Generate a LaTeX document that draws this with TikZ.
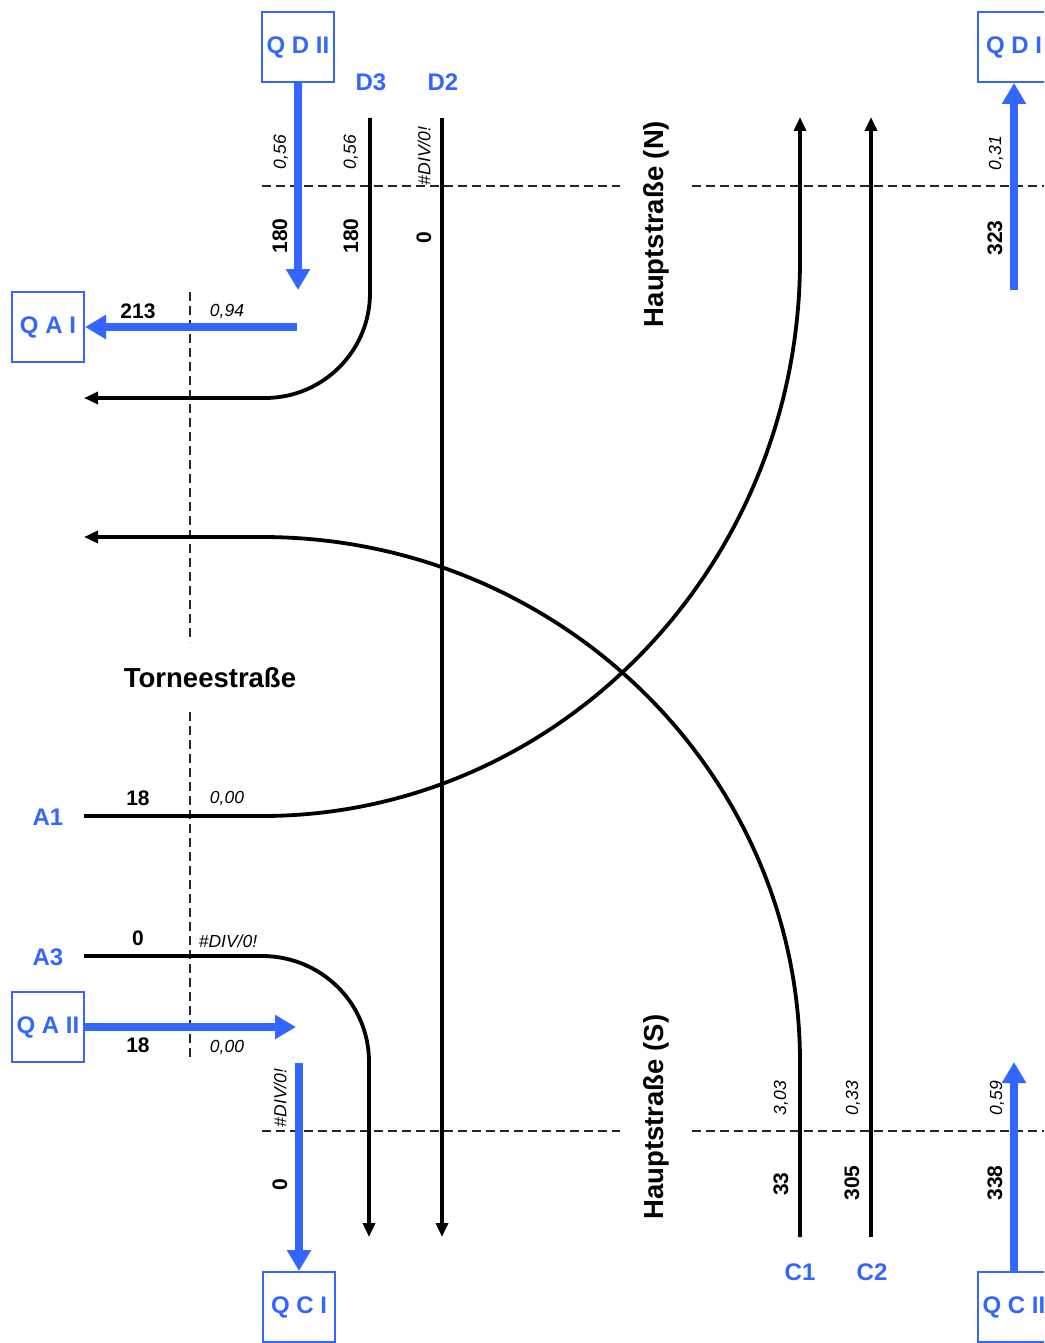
\documentclass[tikz,border=0pt]{standalone}
\usepackage{fontspec}
\setmainfont{Liberation Sans}
\usetikzlibrary{arrows.meta}
\definecolor{qblue}{RGB}{51,102,255}
\begin{document}
\begin{tikzpicture}[x=1pt,y=-1pt,
  qbox/.style={draw=qblue,line width=2pt,minimum width=72pt,minimum height=70pt,inner sep=0pt,text=qblue,font=\fontsize{24}{24}\selectfont\bfseries},
  flow/.style={draw=qblue,line width=8pt,-{Triangle[length=21pt,width=23pt]}},
  road/.style={line width=3.8pt,-{Triangle[length=14pt,width=12pt]}},
  sect/.style={line width=1.8pt,dash pattern=on 9pt off 5pt,draw=black!85},
  lbl/.style={text=qblue,font=\fontsize{24}{24}\selectfont\bfseries},
  num/.style={font=\fontsize{21}{21}\selectfont\bfseries},
  ratio/.style={font=\fontsize{17.5}{17.5}\selectfont\itshape},
  street/.style={font=\fontsize{27.5}{27.5}\selectfont\bfseries},
]
\useasboundingbox (0,0) rectangle (1044,1343);
\clip (0,0) rectangle (1044,1343);
\fill[white] (0,0) rectangle (1044,1343);

% section lines
\coordinate (nL1) at (262,186); \coordinate (nL2) at (620,186);
\coordinate (nR1) at (692,186); \coordinate (nR2) at (1044,186);
\coordinate (sL1) at (262,1131); \coordinate (sL2) at (620,1131);
\coordinate (sR1) at (692,1131); \coordinate (sR2) at (1044,1131);
\coordinate (wT1) at (190,292); \coordinate (wT2) at (190,642);
\coordinate (wB1) at (190,712); \coordinate (wB2) at (190,1058);
\draw[sect] (nL1) -- (nL2);
\draw[sect] (nR1) -- (nR2);
\draw[sect] (sL1) -- (sL2);
\draw[sect] (sR1) -- (sR2);
\draw[sect] (wT1) -- (wT2);
\draw[sect] (wB1) -- (wB2);

% boxes
\node[qbox] (qdii) at (298,47) {Q D II};
\node[qbox] (qdi) at (1014,47) {Q D I};
\node[qbox] (qai) at (48,327) {Q A I};
\node[qbox] (qaii) at (48,1027) {Q A II};
\node[qbox] (qci) at (299,1307) {Q C I};
\node[qbox] (qcii) at (1014,1307) {Q C II};

% blue flows
\coordinate (qdiiE) at (298,290);
\coordinate (qaiS) at (297,327);
\coordinate (qdiS) at (1014,290);
\coordinate (qaiiE) at (296,1027);
\coordinate (qciS) at (299,1063);
\coordinate (qciiE) at (1014,1062);
\draw[flow] (qdii.south) -- (qdiiE);
\draw[flow] (qaiS) -- (qai.east);
\draw[flow] (qdiS) -- (qdi.south);
\draw[flow] (qaii.east) -- (qaiiE);
\draw[flow] (qciS) -- (qci.north);
\draw[flow] (qcii.north) -- (qciiE);

% roads
\coordinate (d3s) at (370,118); \coordinate (d3k) at (370,293);
\coordinate (d3e) at (265,398); \coordinate (d3o) at (84,398);
\draw[road] (d3s) -- (d3k) .. controls +(0,58) and +(58,0) .. (d3e) -- (d3o);

\coordinate (d2s) at (442,118); \coordinate (d2o) at (442,1237);
\draw[road] (d2s) -- (d2o);

\coordinate (a1s) at (84,816); \coordinate (a1k) at (262,816);
\coordinate (a1e) at (800,260); \coordinate (a1o) at (800,117);
\draw[road] (a1s) -- (a1k) .. controls +(296,0) and +(0,307) .. (a1e) -- (a1o);

\coordinate (c1s) at (800,1237); \coordinate (c1k) at (800,1062);
\coordinate (c1e) at (262,537); \coordinate (c1o) at (84,537);
\draw[road] (c1s) -- (c1k) .. controls +(0,-290) and +(296,0) .. (c1e) -- (c1o);

\coordinate (c2s) at (871,1237); \coordinate (c2o) at (871,117);
\draw[road] (c2s) -- (c2o);

\coordinate (a3s) at (84,956); \coordinate (a3k) at (262,956);
\coordinate (a3e) at (369,1062); \coordinate (a3o) at (369,1237);
\draw[road] (a3s) -- (a3k) .. controls +(59,0) and +(0,-59) .. (a3e) -- (a3o);

% stream labels
\node[lbl] (lD3) at (371,82) {D3};
\node[lbl] (lD2) at (443,82) {D2};
\node[lbl] (lC1) at (800,1272) {C1};
\node[lbl] (lC2) at (872,1272) {C2};
\node[lbl] (lA1) at (48,817) {A1};
\node[lbl] (lA3) at (48,957) {A3};

% north values
\node[ratio,rotate=90] (r1) at (281,152) {0,56};
\node[num,rotate=90] (n1) at (280,236) {180};
\node[ratio,rotate=90] (r2) at (351,152) {0,56};
\node[num,rotate=90] (n2) at (351,236) {180};
\node[ratio,rotate=90] (r3) at (424,156) {\#DIV/0!};
\node[num,rotate=90] (n3) at (424,238) {0};
\node[ratio,rotate=90] (r4) at (996,153) {0,31};
\node[num,rotate=90] (n4) at (995,238) {323};

% south values
\node[ratio,rotate=90] (r5) at (280,1098) {\#DIV/0!};
\node[num,rotate=90] (n5) at (280,1185) {0};
\node[ratio,rotate=90] (r6) at (781,1098) {3,03};
\node[num,rotate=90] (n6) at (781,1184) {33};
\node[ratio,rotate=90] (r7) at (853,1098) {0,33};
\node[num,rotate=90] (n7) at (852,1183) {305};
\node[ratio,rotate=90] (r8) at (997,1098) {0,59};
\node[num,rotate=90] (n8) at (995,1183) {338};

% west values
\node[num] (n9) at (138,311) {213};
\node[ratio] (r9) at (227,312) {0,94};
\node[num] (n10) at (138,798) {18};
\node[ratio] (r10) at (227,799) {0,00};
\node[num] (n11) at (138,938) {0};
\node[ratio] (r11) at (228,941) {\#DIV/0!};
\node[num] (n12) at (138,1045) {18};
\node[ratio] (r12) at (227,1047) {0,00};

% street names
\node[street] (tor) at (210,678) {Torneestraße};
\node[street,rotate=90] (hn) at (656,224) {Hauptstraße (N)};
\node[street,rotate=90] (hs) at (656,1117) {Hauptstraße (S)};
\end{tikzpicture}
\end{document}
